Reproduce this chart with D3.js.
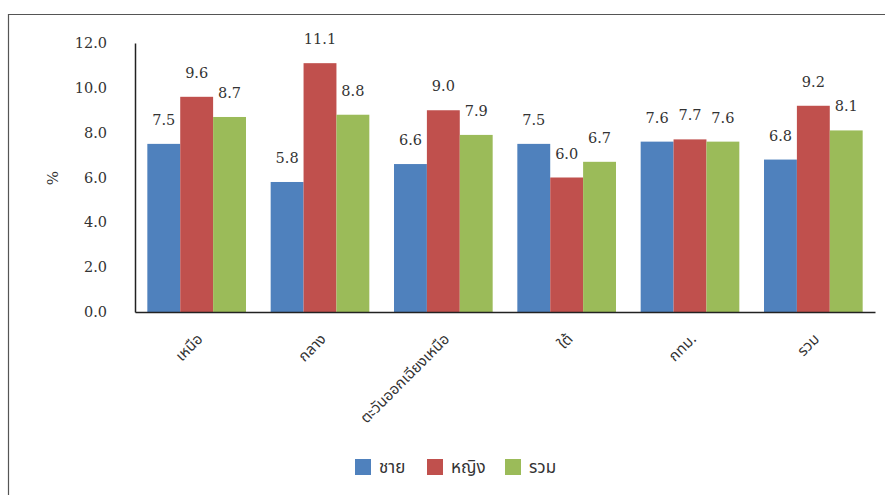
<!DOCTYPE html>
<html><head><meta charset="utf-8">
<script src="https://cdn.jsdelivr.net/npm/d3@7/dist/d3.min.js"></script>
<style>body{margin:0;background:#fff}svg{display:block}</style>
</head><body><svg id="c" width="885" height="495"></svg>
<script>
const categories = ["เหนือ","กลาง","ตะวันออกเฉียงเหนือ","ใต้","กทม.","รวม"];
const seriesNames = ["ชาย","หญิง","รวม"];
const male = [7.5,5.8,6.6,7.5,7.6,6.8];
const female = [9.6,11.1,9.0,6.0,7.7,9.2];
const total = [8.7,8.8,7.9,6.7,7.6,8.1];
const yTicks = [0,2,4,6,8,10,12];
const colors = ["#4f81bd","#c0504d","#9bbb59"];
const seriesValues = [male,female,total];

const svg = d3.select("#c");
const serif = "DejaVu Serif";
const thai = "Noto Sans Thai, Tahoma, Noto Sans, sans-serif";

// frame
svg.append("path").attr("d","M8.5,495 V14.5 H885").attr("fill","none").attr("stroke","#555").attr("stroke-width",1.2);

const x0 = d3.scaleBand().domain(categories).range([135,875]).paddingInner(0.2).paddingOuter(0.1);
const x1 = d3.scaleBand().domain(seriesNames).range([0,x0.bandwidth()]);
const y = d3.scaleLinear().domain([0,12]).range([312,43]);

const g = svg.append("g");
categories.forEach((c,i)=>{
  seriesNames.forEach((s,j)=>{
    const v = seriesValues[j][i];
    g.append("rect").attr("x",x0(c)+x1(s)).attr("y",y(v)).attr("width",x1.bandwidth()).attr("height",y(0)-y(v))
     .attr("fill",colors[j]);
    g.append("text").attr("font-family",serif).attr("x",x0(c)+x1(s)+x1.bandwidth()/2).attr("y",y(v)-19)
     .attr("text-anchor","middle").attr("font-size",14.5).attr("fill","#333").text(v.toFixed(1));
  });
});

// y axis
const yAxis = d3.axisLeft(y).tickValues(yTicks).tickFormat(d3.format(".1f")).tickSize(0).tickPadding(28);
const ya = svg.append("g").attr("transform","translate(135,0)").call(yAxis);
ya.attr("font-family",serif).attr("font-size",14.5);
ya.select(".domain").attr("stroke","#222").attr("stroke-width",1.5);
ya.selectAll("text").attr("fill","#333");

// x axis
const xAxis = d3.axisBottom(x0).tickSize(0).tickSizeOuter(0).tickPadding(0);
const xa = svg.append("g").attr("transform","translate(0,312)").call(xAxis);
xa.attr("font-family",thai).attr("font-size",15);
xa.select(".domain").attr("stroke","#222").attr("stroke-width",1.5);
xa.selectAll("text").attr("fill","#333")
  .attr("text-anchor","end").attr("dy",null).attr("y",0)
  .attr("transform","translate(7,28) rotate(-45)");

// y title
svg.append("text").attr("font-family",serif).attr("transform","translate(58,178) rotate(-90)").attr("text-anchor","middle")
  .attr("font-size",15).attr("fill","#333").text("%");

// legend
const legX = [355,427,505];
seriesNames.forEach((s,j)=>{
  svg.append("rect").attr("x",legX[j]).attr("y",459).attr("width",16).attr("height",16).attr("fill",colors[j]);
  svg.append("text").attr("font-family",thai).attr("x",legX[j]+24).attr("y",473).attr("font-size",17).attr("fill","#333").text(s);
});
</script></body></html>
